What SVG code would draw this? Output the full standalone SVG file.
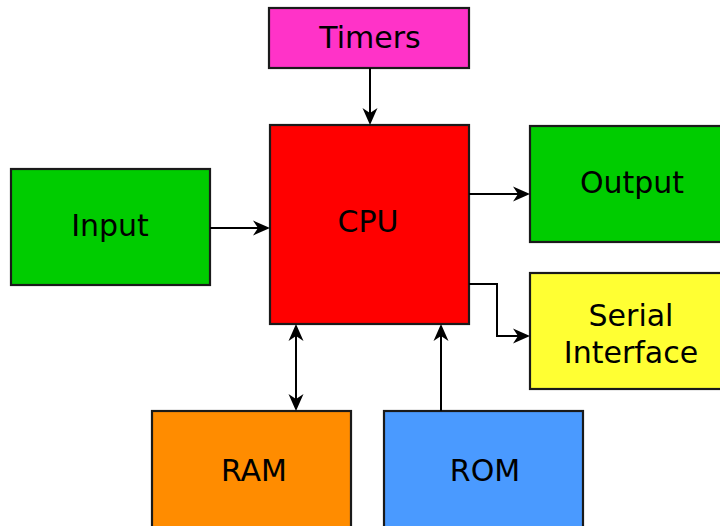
<svg xmlns="http://www.w3.org/2000/svg" width="720" height="526" viewBox="0 0 720 526">
<style>
.box{stroke:#1a1a1a;stroke-width:2.2}
.lbl{font-family:"DejaVu Sans",sans-serif;font-size:30px;fill:#000;text-anchor:middle}
.con{fill:none;stroke:#000;stroke-width:2}
.head{fill:#000}
</style>
<defs>
<path id="arr" d="M0,0 L-17,-7.5 L-12,0 L-17,7.5 Z"/>
</defs>
<rect width="720" height="526" fill="#fff"/>
<g id="timers"><rect class="box" x="269" y="8" width="200" height="60" fill="#ff33c8"/><text class="lbl" x="370" y="48">Timers</text></g>
<g id="cpu"><rect class="box" x="270" y="125" width="199" height="199" fill="#ff0000"/><text class="lbl" x="368" y="232">CPU</text></g>
<g id="input"><rect class="box" x="11" y="169" width="199" height="116" fill="#00cc00"/><text class="lbl" x="110" y="236">Input</text></g>
<g id="output"><rect class="box" x="530" y="126" width="202" height="116" fill="#00cc00"/><text class="lbl" x="632" y="193">Output</text></g>
<g id="serial"><rect class="box" x="530" y="273" width="202" height="116" fill="#ffff33"/><text class="lbl" x="631" y="326">Serial</text><text class="lbl" x="631" y="363">Interface</text></g>
<g id="ram"><rect class="box" x="152" y="411" width="199" height="130" fill="#ff8c00"/><text class="lbl" x="254" y="481">RAM</text></g>
<g id="rom"><rect class="box" x="384" y="411" width="199" height="130" fill="#4a9aff"/><text class="lbl" x="485" y="481">ROM</text></g>
<g id="connectors">
<path class="con" d="M370,68 V114"/>
<path class="con" d="M210,228 H259"/>
<path class="con" d="M469,194 H519"/>
<path class="con" d="M469,284 H497 V336 H519"/>
<path class="con" d="M296,335 V400"/>
<path class="con" d="M441,411 V335"/>
<use href="#arr" class="head" transform="translate(370,125) rotate(90)"/>
<use href="#arr" class="head" transform="translate(270,228)"/>
<use href="#arr" class="head" transform="translate(530,194)"/>
<use href="#arr" class="head" transform="translate(530,336)"/>
<use href="#arr" class="head" transform="translate(296,324) rotate(-90)"/>
<use href="#arr" class="head" transform="translate(296,411) rotate(90)"/>
<use href="#arr" class="head" transform="translate(441,324) rotate(-90)"/>
</g>
</svg>
